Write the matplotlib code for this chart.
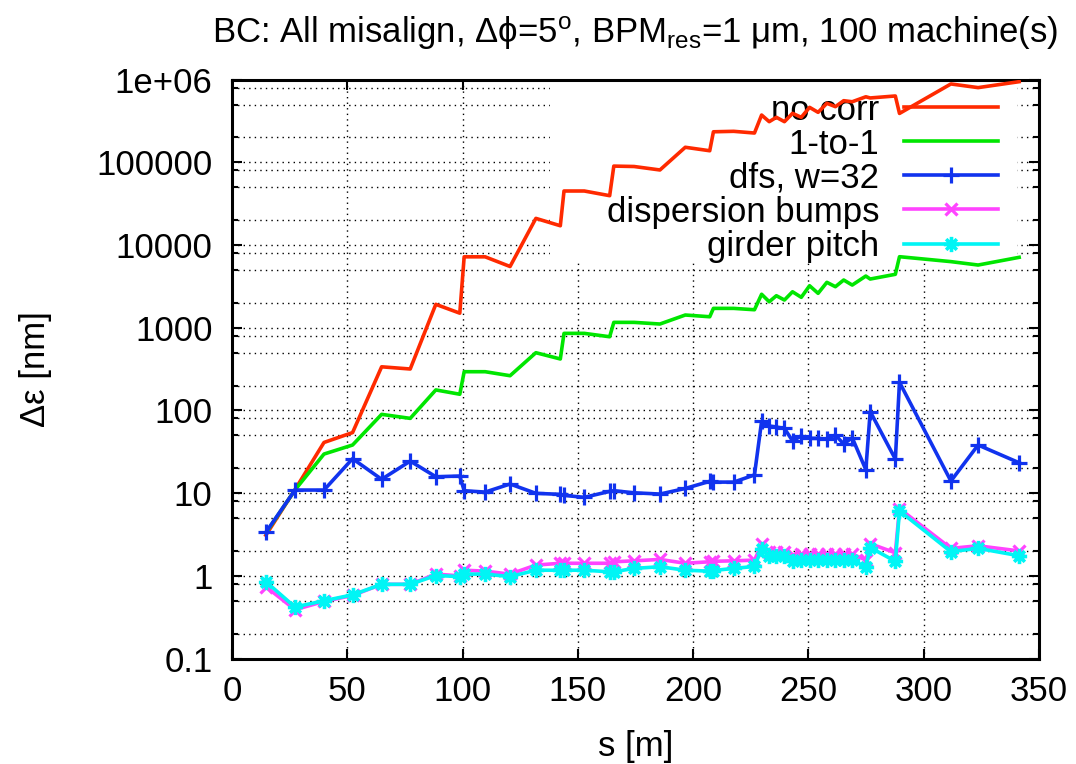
import numpy as np
import matplotlib
matplotlib.use("Agg")
from matplotlib import pyplot as plt
from matplotlib.path import Path
from matplotlib.patches import Rectangle
from matplotlib.ticker import LogLocator, FuncFormatter, MultipleLocator, NullFormatter

plt.rcParams['font.family'] = ['Liberation Sans', 'DejaVu Sans']
plt.rcParams['mathtext.fontset'] = 'custom'
plt.rcParams['mathtext.rm'] = 'Liberation Sans'
plt.rcParams['mathtext.it'] = 'Liberation Sans:italic'
plt.rcParams['font.size'] = 25

# BPM positions along the bunch compressor [m]
s = [14.7, 27.3, 39.9, 52.3, 64.9, 77.3, 88.4, 98.8, 100.7, 109.8,
     120.6, 131.8, 142.4, 144.0, 152.8, 163.8, 165.6, 174.4, 185.6, 196.6,
     207.2, 208.8, 217.6, 226.6, 229.7, 233.0, 236.1, 239.6, 243.1, 246.9,
     250.5, 254.2, 258.0, 261.7, 265.3, 269.0, 274.9, 276.8, 287.7, 289.5,
     311.8, 323.6, 341.4]

# emittance growth [nm]
no_corr = [3.1, 11, 41, 54, 337, 317, 1918, 1500, 7200, 7200,
           5500, 21000, 17100, 45000, 45000, 39500, 90000, 89000, 80800, 152000,
           138000, 234000, 237000, 226000, 373000, 310000, 350000, 310000, 391000, 350000,
           462000, 402000, 517000, 471000, 556000, 540000, 620000, 600000, 634000, 390000,
           886000, 800000, 944000]
one_to_one = [3.3, 10.9, 29.7, 38.2, 89.7, 80.2, 177, 157, 294, 294,
              263, 499, 419, 855, 855, 778, 1161, 1161, 1109, 1425,
              1358, 1714, 1714, 1650, 2540, 2062, 2438, 2163, 2722, 2333,
              3220, 2606, 3540, 3133, 3776, 3281, 4217, 3880, 4425, 7225,
              6300, 5730, 7100]
dfs = [3.36, 10.9, 10.9, 26.1, 14.7, 24.4, 15.8, 16.1, 10.7, 10.3,
       12.9, 9.95, 9.67, 9.4, 8.9, 10.5, 10.7, 10.1, 9.75, 11.4,
       13.9, 13.6, 13.6, 16.6, 74, 64.8, 63, 60.6, 43, 49,
       46, 46, 44.8, 50.5, 39.3, 46.8, 19.2, 97, 25.8, 219,
       14, 38.2, 23.3]
disp_bumps = [0.74, 0.39, 0.49, 0.58, 0.79, 0.79, 1.05, 1.0, 1.17, 1.14,
              1.05, 1.35, 1.42, 1.42, 1.42, 1.42, 1.48, 1.52, 1.58, 1.42,
              1.48, 1.50, 1.52, 1.55, 2.4, 1.95, 1.95, 1.95, 1.79, 1.84,
              1.84, 1.84, 1.84, 1.84, 1.84, 1.84, 1.55, 2.45, 1.9, 6.5,
              2.15, 2.31, 2.0]
girder_pitch = [0.85, 0.42, 0.5, 0.59, 0.79, 0.79, 1.01, 0.98, 1.05, 1.05,
                0.98, 1.17, 1.17, 1.17, 1.17, 1.12, 1.12, 1.23, 1.29, 1.17,
                1.14, 1.16, 1.23, 1.3, 2.1, 1.72, 1.72, 1.72, 1.5, 1.55,
                1.55, 1.55, 1.55, 1.55, 1.55, 1.55, 1.28, 2.2, 1.5, 6.1,
                1.96, 2.15, 1.75]

# gnuplot style star: plus and cross on top of each other
star = Path([(-1, 0), (1, 0), (0, -1), (0, 1),
             (-0.7, -0.7), (0.7, 0.7), (-0.7, 0.7), (0.7, -0.7)],
            [Path.MOVETO, Path.LINETO] * 4)

fig = plt.figure(figsize=(10.76, 7.64), dpi=100)
ax = fig.add_axes([0.2156, 0.138, 0.75, 0.7578])

ax.plot(s, no_corr, color='#ff2a00', lw=2.6, label='no corr', zorder=3)
ax.plot(s, one_to_one, color='#00e600', lw=2.6, label='1-to-1', zorder=3)
ax.plot(s, dfs, color='#1133ee', lw=2.6, marker='+', ms=11, mew=2.3, label='dfs, w=32', zorder=3)
ax.plot(s, disp_bumps, color='#ff44ff', lw=2.6, marker='x', ms=9, mew=2.3,
        label='dispersion bumps', zorder=3)
ax.plot(s, girder_pitch, color='#00f5f5', lw=2.6, marker=star, ms=11, mew=2.6,
        label='girder pitch', zorder=3)

ax.set_yscale('log')
ax.set_xlim(0, 350)
ax.set_ylim(0.1, 1e6)
ax.xaxis.set_major_locator(MultipleLocator(50))
ax.yaxis.set_major_locator(LogLocator(base=10, numticks=20))
ax.yaxis.set_minor_locator(LogLocator(base=10, subs=[2, 5, 8], numticks=20))
ax.yaxis.set_major_formatter(FuncFormatter(lambda v, p: '%g' % v))
ax.yaxis.set_minor_formatter(NullFormatter())

ax.tick_params(which='both', direction='in', top=True, right=True, width=1.5)
ax.tick_params(which='major', length=7)
ax.tick_params(which='minor', length=4)
ax.tick_params(axis='x', pad=12)
ax.tick_params(axis='y', pad=14)
for sp in ax.spines.values():
    sp.set_linewidth(2.2)

ax.set_axisbelow(True)
ax.grid(True, which='major', axis='x', color='black', lw=1, linestyle=(0, (1, 3)))
ax.grid(True, which='both', axis='y', color='black', lw=1, linestyle=(0, (1, 3)))

# white key area hides the grid behind the legend
ax.add_patch(Rectangle((0.394, 0.685), 0.579, 0.315, transform=ax.transAxes,
                       facecolor='white', edgecolor='none', zorder=1))

leg = ax.legend(loc='upper right', bbox_to_anchor=(0.949, 0.976), frameon=False,
                borderpad=0, borderaxespad=0, handlelength=2.7, handletextpad=0.72,
                labelspacing=0.03, markerfirst=False, numpoints=1, fontsize=25)
leg.set_zorder(2)
for col in leg._legend_handle_box.get_children():
    col.align = 'right'

ax.set_title('BC: All misalign, \u0394\u03d5=5$^{\\mathrm{o}}$, BPM$_{\\mathrm{res}}$=1 \u03bcm, 100 machine(s)',
             fontsize=25, pad=26)
ax.set_xlabel('s [m]', labelpad=16)
ax.set_ylabel('\u0394\u03b5 [nm]', labelpad=32)

plt.savefig('out.png', dpi=100)
